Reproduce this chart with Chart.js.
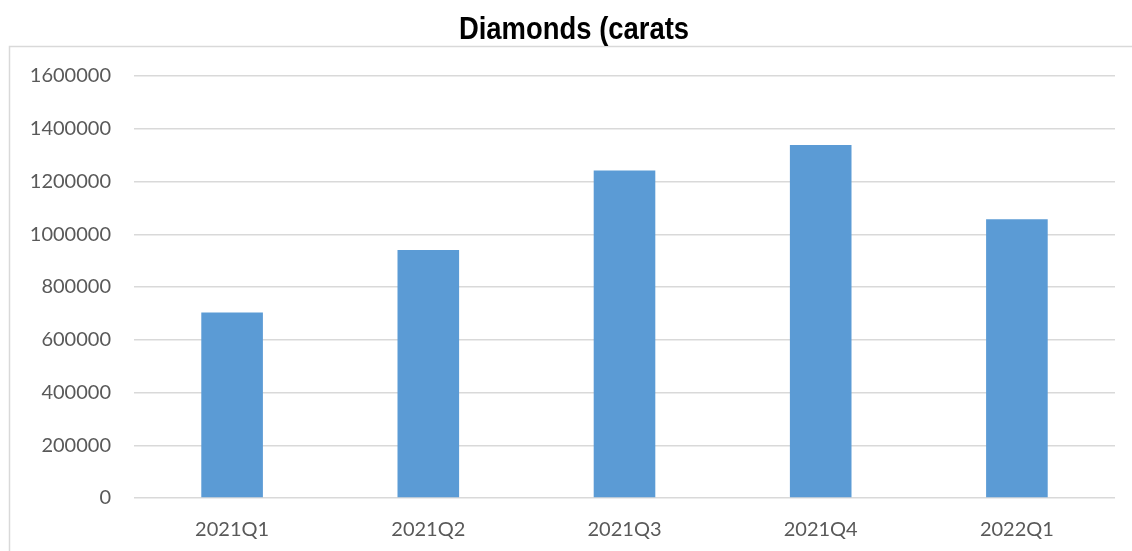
<!DOCTYPE html>
<html>
<head>
<meta charset="utf-8">
<script src="https://cdn.jsdelivr.net/npm/chart.js@4.4.1/dist/chart.umd.min.js"></script>
<style>
  html, body { margin: 0; padding: 0; background: #fff; }
  #wrap { position: relative; width: 1132px; height: 551px; }
</style>
</head>
<body>
<div id="wrap"><canvas id="diamondChart"></canvas></div>
<script>
const chartTitle = 'Diamonds (carats';
const quarters = ['2021Q1', '2021Q2', '2021Q3', '2021Q4', '2022Q1'];
const carats = [703000, 940000, 1242000, 1338000, 1057000];
const yTicks = [0, 200000, 400000, 600000, 800000, 1000000, 1200000, 1400000, 1600000];

// light frame around the plot plus a condensed bold title above it
const framePlugin = {
  id: 'frame',
  beforeDraw(chart) {
    const ctx = chart.ctx;
    ctx.save();
    ctx.strokeStyle = '#d9d9d9';
    ctx.lineWidth = 1.5;
    ctx.strokeRect(9.5, 46.5, chart.width + 10, chart.height + 10);
    ctx.restore();
  },
  afterDraw(chart) {
    const ctx = chart.ctx;
    ctx.save();
    ctx.font = 'bold 31px "Liberation Sans", Arial, sans-serif';
    ctx.fillStyle = '#000';
    ctx.textAlign = 'center';
    ctx.textBaseline = 'alphabetic';
    ctx.translate(574, 39);
    ctx.scale(0.885, 1);
    ctx.fillText(chartTitle, 0, 0);
    ctx.restore();
  }
};

const ctx = document.getElementById('diamondChart').getContext('2d');
new Chart(ctx, {
  type: 'bar',
  data: {
    labels: quarters,
    datasets: [{
      label: chartTitle,
      data: carats,
      backgroundColor: '#5b9bd5',
      borderWidth: 0,
      categoryPercentage: 1,
      barPercentage: 0.314
    }]
  },
  options: {
    responsive: true,
    maintainAspectRatio: false,
    animation: false,
    layout: {
      padding: { left: 0, right: 17, top: 76, bottom: 0 }
    },
    plugins: {
      legend: { display: false },
      tooltip: { enabled: false },
      title: { display: false }
    },
    scales: {
      x: {
        grid: { display: false, drawTicks: false },
        border: { display: false },
        afterFit(axis) { axis.height = 53; },
        ticks: {
          color: '#595959',
          padding: 20,
          maxRotation: 0,
          font: { family: 'Lato, "Open Sans", sans-serif', size: 20 }
        }
      },
      y: {
        min: 0,
        max: 1600000,
        afterBuildTicks(axis) {
          axis.ticks = yTicks.map(v => ({ value: v }));
        },
        afterFit(axis) { axis.width = 134; },
        grid: { color: '#d9d9d9', lineWidth: 1.5, drawTicks: false },
        border: { display: false },
        ticks: {
          color: '#595959',
          padding: 23,
          font: { family: 'Lato, "Open Sans", sans-serif', size: 20 },
          callback: v => String(v)
        }
      }
    }
  },
  plugins: [framePlugin]
});
</script>
</body>
</html>
